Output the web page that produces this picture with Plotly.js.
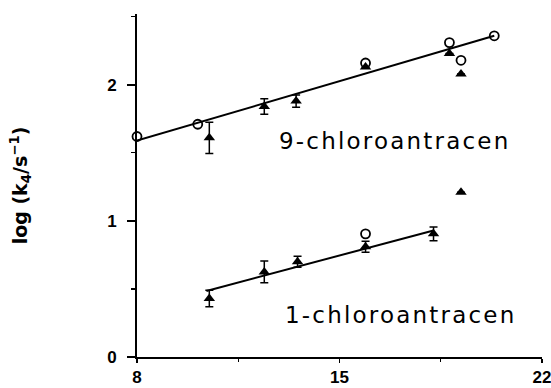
<!DOCTYPE html>
<html>
<head>
<meta charset="utf-8">
<script src="https://cdn.plot.ly/plotly-3.0.1.min.js"></script>
<style>
html,body{margin:0;padding:0;background:#fff;}
#chart{width:551px;height:388px;}
.annotation-text{letter-spacing:2.2px;}
</style>
</head>
<body>
<div id="chart"></div>
<script>
// 9-chloroantracen
const c9CircleX = [8.0, 10.1, 15.9, 18.8, 19.2, 20.35];
const c9CircleY = [1.62, 1.71, 2.16, 2.31, 2.18, 2.36];
const c9TriX = [10.5, 12.4, 13.5, 15.9, 18.8, 19.2];
const c9TriY = [1.61, 1.84, 1.88, 2.13, 2.23, 2.08];
const c9TriErr = [0.115, 0.057, 0.045, 0, 0, 0];
const c9FitX = [8.0, 20.35];
const c9FitY = [1.59, 2.36];

// 1-chloroantracen
const c1CircleX = [15.9];
const c1CircleY = [0.905];
const c1TriX = [10.5, 12.4, 13.55, 15.9, 18.25, 19.2];
const c1TriY = [0.43, 0.625, 0.70, 0.81, 0.905, 1.21];
const c1TriErr = [0.06, 0.08, 0.04, 0.04, 0.05, 0];
const c1FitX = [10.4, 18.25];
const c1FitY = [0.485, 0.93];

const xTicks = [8, 15, 22];
const xTickText = ['8', '15', '22'];
const yTicks = [0, 1, 2];
const yTickText = ['0', '1', '2'];

const seriesLabels = ['9-chloroantracen', '1-chloroantracen'];

const lineStyle = {color: '#000', width: 2};
const triMarker = {symbol: 'triangle-up', size: 10, color: '#000'};
const circMarker = {symbol: 'circle-open', size: 9, color: '#000', line: {width: 1.8, color: '#000'}};
const errStyle = (arr) => ({type: 'data', array: arr, visible: true, color: '#000', thickness: 1.5, width: 4});

const traces = [
  {x: c9FitX, y: c9FitY, mode: 'lines', line: lineStyle, cliponaxis: false},
  {x: c1FitX, y: c1FitY, mode: 'lines', line: lineStyle, cliponaxis: false},
  {x: c9TriX, y: c9TriY, mode: 'markers', marker: triMarker, error_y: errStyle(c9TriErr), cliponaxis: false},
  {x: c1TriX, y: c1TriY, mode: 'markers', marker: triMarker, error_y: errStyle(c1TriErr), cliponaxis: false},
  {x: c9CircleX, y: c9CircleY, mode: 'markers', marker: circMarker, cliponaxis: false},
  {x: c1CircleX, y: c1CircleY, mode: 'markers', marker: circMarker, cliponaxis: false}
];

const tickFont = {family: 'Liberation Sans, Arial, sans-serif', size: 17, color: '#000', weight: 'bold'};

const layout = {
  width: 551, height: 388,
  margin: {l: 137, r: 9, t: 14, b: 31},
  paper_bgcolor: '#fff', plot_bgcolor: '#fff',
  showlegend: false,
  xaxis: {
    range: [8, 22], tickvals: xTicks, ticktext: xTickText,
    showline: true, linecolor: '#000', linewidth: 2,
    ticks: 'outside', ticklen: 4, tickwidth: 1.5, tickcolor: '#000',
    minor: {dtick: 3.5, tick0: 8, ticks: 'outside', ticklen: 3, tickwidth: 1.2, tickcolor: '#000', showgrid: false},
    showgrid: false, zeroline: false, tickfont: tickFont, ticklabelstandoff: 0,
    ticklabeloverflow: 'allow'
  },
  yaxis: {
    range: [0, 2.52], tickvals: yTicks, ticktext: yTickText,
    showline: true, linecolor: '#000', linewidth: 2,
    ticks: 'outside', ticklen: 8, tickwidth: 1.5, tickcolor: '#000',
    minor: {dtick: 0.5, tick0: 0, ticks: 'outside', ticklen: 4, tickwidth: 1.2, tickcolor: '#000', showgrid: false},
    showgrid: false, zeroline: false, tickfont: tickFont, ticklabelstandoff: 7,
    title: {text: 'log (k<sub>4</sub>/s<sup>−1</sup>)', standoff: 74,
      font: {family: 'DejaVu Sans, sans-serif', size: 19, color: '#000', weight: 'bold'}}
  },
  annotations: [
    {x: 12.85, y: 1.59, xref: 'x', yref: 'y', text: seriesLabels[0], showarrow: false,
      xanchor: 'left', yanchor: 'middle', font: {family: 'DejaVu Sans, sans-serif', size: 23, color: '#000'}},
    {x: 13.03, y: 0.305, xref: 'x', yref: 'y', text: seriesLabels[1], showarrow: false,
      xanchor: 'left', yanchor: 'middle', font: {family: 'DejaVu Sans, sans-serif', size: 23, color: '#000'}}
  ]
};

Plotly.newPlot('chart', traces, layout, {staticPlot: true, displayModeBar: false});
</script>
</body>
</html>
